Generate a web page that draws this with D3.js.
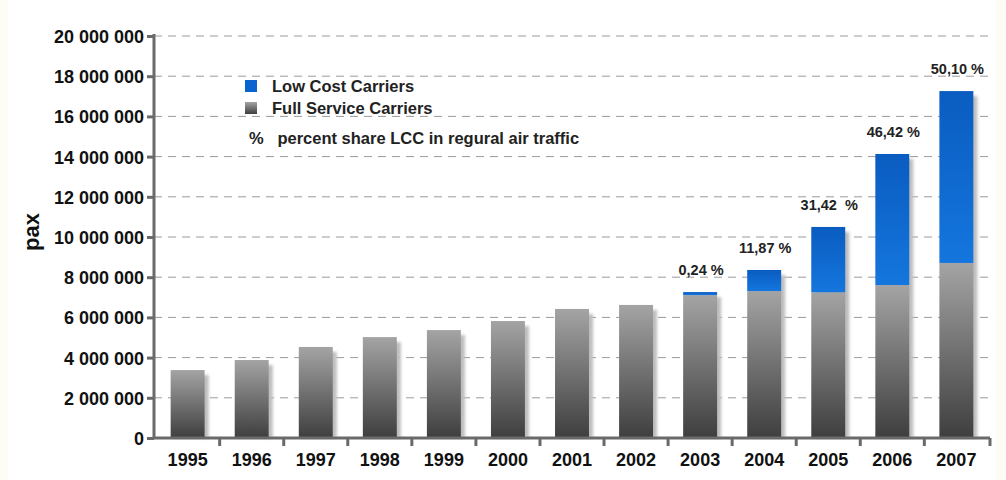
<!DOCTYPE html>
<html>
<head>
<meta charset="utf-8">
<script src="https://cdn.jsdelivr.net/npm/d3@7"></script>
<style>
  body { margin: 0; background: #fdfdf6; }
  svg { display: block; font-family: "Liberation Sans", Arial, sans-serif; font-weight: bold; }
</style>
</head>
<body>
<svg id="chart" width="1006" height="480"></svg>
<script>
const years = ["1995", "1996", "1997", "1998", "1999", "2000", "2001", "2002", "2003", "2004", "2005", "2006", "2007"];
// passengers, full service carriers
const fullService = [3380000, 3880000, 4530000, 5020000, 5370000, 5820000, 6420000, 6620000, 7110000, 7310000, 7250000, 7610000, 8710000];
// passengers, low cost carriers
const lowCost = [0, 0, 0, 0, 0, 0, 0, 0, 150000, 1050000, 3250000, 6520000, 8550000];
const shareLabels = ["", "", "", "", "", "", "", "", "0,24 %", "11,87 %", "31,42  %", "46,42 %", "50,10 %"];
const yTicks = [0, 2000000, 4000000, 6000000, 8000000, 10000000, 12000000, 14000000, 16000000, 18000000, 20000000];

const svg = d3.select("#chart");
const margin = { top: 36, right: 16, bottom: 42, left: 154 };
const width = +svg.attr("width");
const height = +svg.attr("height");
const plotW = width - margin.left - margin.right;
const plotH = height - margin.top - margin.bottom;

svg.append("rect").attr("x", 8).attr("y", 0).attr("width", 988).attr("height", 480).attr("fill", "#ffffff");

const defs = svg.append("defs");
const grayGrad = defs.append("linearGradient").attr("id", "gray").attr("x1", 0).attr("y1", 0).attr("x2", 0).attr("y2", 1);
grayGrad.append("stop").attr("offset", "0%").attr("stop-color", "#a4a4a4");
grayGrad.append("stop").attr("offset", "100%").attr("stop-color", "#3e3e3e");
const blueGrad = defs.append("linearGradient").attr("id", "blue").attr("x1", 0).attr("y1", 0).attr("x2", 0).attr("y2", 1);
blueGrad.append("stop").attr("offset", "0%").attr("stop-color", "#0a5cc0");
blueGrad.append("stop").attr("offset", "100%").attr("stop-color", "#1476de");
const blur = defs.append("filter").attr("id", "blur").attr("x", "-20%").attr("y", "-5%").attr("width", "140%").attr("height", "110%");
blur.append("feGaussianBlur").attr("stdDeviation", 1.5);

const g = svg.append("g").attr("transform", `translate(${margin.left},${margin.top})`);

const x = d3.scaleBand().domain(years).range([0, plotW]).paddingInner(0.47).paddingOuter(0.26);
const y = d3.scaleLinear().domain([0, 20000000]).range([plotH, 0]);

// dashed gridlines
g.append("g")
  .selectAll("line")
  .data(yTicks.slice(1))
  .join("line")
  .attr("x1", 0)
  .attr("x2", plotW)
  .attr("y1", d => y(d))
  .attr("y2", d => y(d))
  .attr("stroke", "#9a9a9a")
  .attr("stroke-width", 1)
  .attr("stroke-dasharray", "8,6");

const fmt = d => d3.format(",")(d).replace(/,/g, " ");

// bar shadows
g.append("g")
  .selectAll("rect")
  .data(years)
  .join("rect")
  .attr("x", d => x(d) + 4)
  .attr("y", (d, i) => y(fullService[i] + lowCost[i]) + 5)
  .attr("width", x.bandwidth())
  .attr("height", (d, i) => plotH - y(fullService[i] + lowCost[i]) - 5)
  .attr("fill", "#bdbdbd")
  .attr("filter", "url(#blur)");

// full service bars
g.append("g")
  .selectAll("rect")
  .data(years)
  .join("rect")
  .attr("x", d => x(d))
  .attr("y", (d, i) => y(fullService[i]))
  .attr("width", x.bandwidth())
  .attr("height", (d, i) => plotH - y(fullService[i]))
  .attr("fill", "url(#gray)");

// low cost bars
g.append("g")
  .selectAll("rect")
  .data(years.filter((d, i) => lowCost[i] > 0))
  .join("rect")
  .attr("x", d => x(d))
  .attr("y", d => { const i = years.indexOf(d); return y(fullService[i] + lowCost[i]); })
  .attr("width", x.bandwidth())
  .attr("height", d => { const i = years.indexOf(d); return y(fullService[i]) - y(fullService[i] + lowCost[i]); })
  .attr("fill", "url(#blue)");

// percent labels
g.append("g")
  .selectAll("text")
  .data(years.filter((d, i) => shareLabels[i] !== ""))
  .join("text")
  .attr("x", d => x(d) + x.bandwidth() / 2 + 1)
  .attr("y", d => { const i = years.indexOf(d); return y(fullService[i] + lowCost[i]) - 17; })
  .attr("text-anchor", "middle")
  .attr("font-size", 14.5)
  .attr("fill", "#222")
  .attr("xml:space", "preserve")
  .text(d => shareLabels[years.indexOf(d)]);

// y axis
const yAxis = g.append("g")
  .call(d3.axisLeft(y).tickValues(yTicks).tickFormat(fmt).tickSize(7).tickPadding(3));
yAxis.select(".domain").attr("stroke", "#6a6a6a").attr("stroke-width", 3).attr("d", `M0,${plotH}V-2`);
yAxis.selectAll(".tick line").attr("stroke", "#6a6a6a").attr("stroke-width", 3);
yAxis.selectAll(".tick text").attr("font-size", 18).attr("fill", "#111").attr("dy", "0.36em");

// x axis
const xAxis = g.append("g").attr("transform", `translate(0,${plotH})`)
  .call(d3.axisBottom(x).tickSize(0).tickPadding(15));
xAxis.select(".domain").attr("stroke", "#6a6a6a").attr("stroke-width", 3).attr("d", `M0,0H${plotW}`);
xAxis.selectAll(".tick text").attr("font-size", 18).attr("fill", "#111");
g.append("g").attr("transform", `translate(0,${plotH})`)
  .selectAll("line")
  .data(years.map(d => x(d) - x.step() * x.paddingInner() / 2).slice(1).concat([plotW]))
  .join("line")
  .attr("x1", d => d)
  .attr("x2", d => d)
  .attr("y1", 0)
  .attr("y2", 8)
  .attr("stroke", "#6a6a6a")
  .attr("stroke-width", 3);

// y axis title
svg.append("text")
  .attr("transform", "translate(39,232) rotate(-90)")
  .attr("text-anchor", "middle")
  .attr("font-size", 22)
  .attr("fill", "#111")
  .text("pax");

// legend
const legend = svg.append("g").attr("transform", "translate(245,80)");
legend.append("rect").attr("x", 0).attr("y", 0).attr("width", 12).attr("height", 12).attr("fill", "#0a64d0");
legend.append("rect").attr("x", 0).attr("y", 22).attr("width", 12).attr("height", 12).attr("fill", "url(#gray)");
legend.append("text").attr("x", 27).attr("y", 12).attr("font-size", 16.5).attr("fill", "#222").text("Low Cost Carriers");
legend.append("text").attr("x", 27).attr("y", 34).attr("font-size", 16.5).attr("fill", "#222").text("Full Service Carriers");
legend.append("text").attr("x", 4).attr("y", 64).attr("font-size", 16.5).attr("fill", "#222").attr("xml:space", "preserve").text("%   percent share LCC in regural air traffic");
</script>
</body>
</html>
